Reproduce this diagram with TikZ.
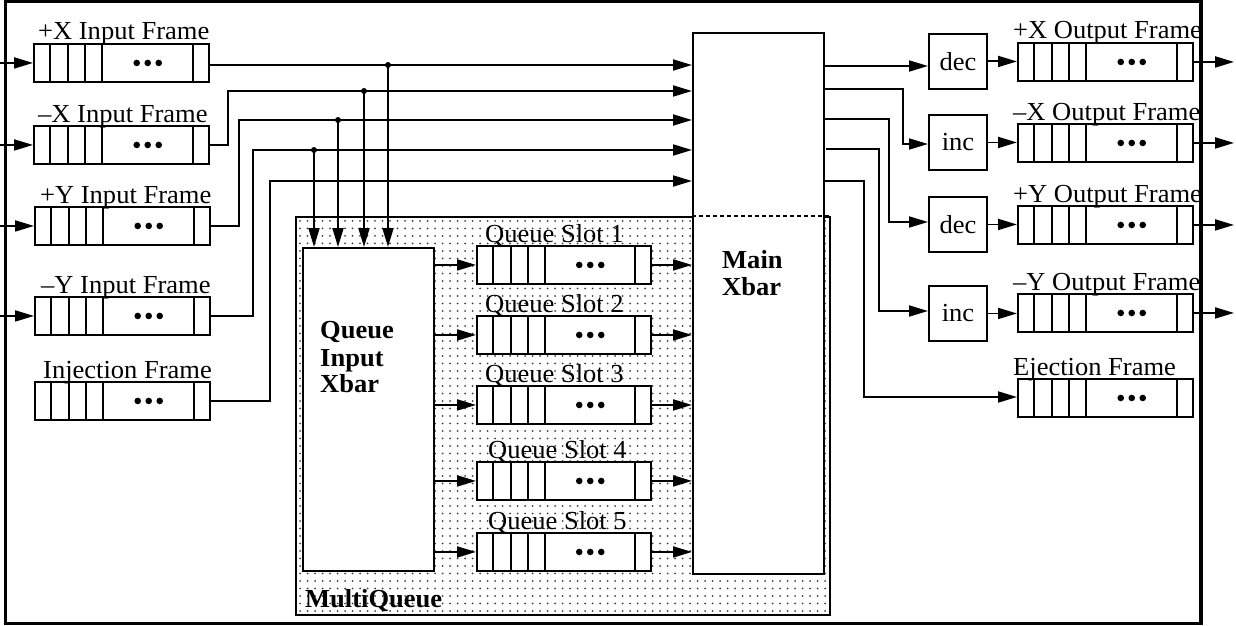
\documentclass[tikz,border=0pt]{standalone}
\usepackage{fontspec}
\setmainfont{Liberation Serif}[FakeStretch=1.02]
\usetikzlibrary{arrows.meta,patterns.meta,calc}
\newcommand\fs{\fontsize{26}{28}\selectfont}
\tikzset{
 ln/.style={line width=1.9pt},
 arr/.style={ln,-{Triangle[length=19pt,width=11pt]}},
 frm/.style={draw,line width=1.9pt,fill=white,rectangle,inner sep=0pt,minimum height=38pt,anchor=north west},
 opbox/.style={draw,line width=1.9pt,fill=white,rectangle,inner sep=0pt,minimum width=58pt,minimum height=55pt,anchor=north west,font=\fs},
 bigbox/.style={draw,line width=1.9pt,fill=white,rectangle,inner sep=0pt,anchor=north west},
 lbl/.style={anchor=base west,inner sep=0pt,font=\fs},
 blbl/.style={anchor=base west,inner sep=0pt,font=\fs\bfseries},
 jdot/.style={circle,fill=black,inner sep=0pt,minimum size=6pt},
}
\newcommand\qframe[4]{%
 \node[frm,minimum width=#4pt] (#1) at (#2,#3) {};
 \foreach \o in {17,35,52,69}{\draw[ln] ([xshift=\o pt]#1.north west) -- ([xshift=\o pt]#1.south west);}
 \draw[ln] ([xshift=-17pt]#1.north east) -- ([xshift=-17pt]#1.south east);
 \foreach \d in {-11,0,11}{\fill ($(#1.west)!{(52+#4)/(2*#4)}!(#1.east)$) ++(\d pt,0) circle (3.3pt);}
}
\begin{document}
\begin{tikzpicture}[x=1pt,y=-1pt]
\useasboundingbox (0,0) rectangle (1236,626);
% MultiQueue region
\node[draw,line width=1.9pt,pattern={Dots[distance=7.5pt,radius=1pt]},pattern color=black!75,
      rectangle,inner sep=0pt,anchor=north west,minimum width=534pt,minimum height=398pt] (mq) at (295,216) {};
\node[blbl] (mql) at (305,607) {MultiQueue};
% Main Xbar
\node[bigbox,minimum width=131pt,minimum height=541pt] (mx) at (692,32) {};
\draw[ln,dash pattern=on 4pt off 3pt] (mq.north -| mx.west) -- (mq.north east);
\node[blbl] (mxl1) at (722,268) {Main};
\node[blbl] (mxl2) at (722,295) {Xbar};
% Queue Input Xbar
\node[bigbox,minimum width=131pt,minimum height=323pt] (qx) at (302,247) {};
\node[blbl] (qxl1) at (320,338) {Queue};
\node[blbl] (qxl2) at (320,366) {Input};
\node[blbl] (qxl3) at (320,392) {Xbar};
% Queue slots
\qframe{qs1}{476}{245}{174}
\qframe{qs2}{476}{315}{174}
\qframe{qs3}{476}{385}{174}
\qframe{qs4}{476}{461}{174}
\qframe{qs5}{476}{532}{174}
\node[lbl] (qs1l) at ([xshift=9pt,yshift=3pt]qs1.north west) {Queue Slot 1};
\node[lbl] (qs2l) at ([xshift=9pt,yshift=3pt]qs2.north west) {Queue Slot 2};
\node[lbl] (qs3l) at ([xshift=9pt,yshift=3pt]qs3.north west) {Queue Slot 3};
\node[lbl] (qs4l) at ([xshift=12pt,yshift=3pt]qs4.north west) {Queue Slot 4};
\node[lbl] (qs5l) at ([xshift=12pt,yshift=3pt]qs5.north west) {Queue Slot 5};
\foreach \q in {qs1,qs2,qs3,qs4,qs5}{
  \draw[arr] (\q.west -| qx.east) -- (\q.west);
  \draw[arr] (\q.east) -- (\q.east -| mx.west);
}
% Input frames
\qframe{iX}{33}{43}{175}
\qframe{iXm}{33}{125}{175}
\qframe{iY}{34}{206}{175}
\qframe{iYm}{34}{296}{175}
\qframe{iJ}{34}{381}{175}
\node[lbl] (iXl) at ([xshift=5pt,yshift=3pt]iX.north west) {+X Input Frame};
\node[lbl] (iXml) at ([xshift=5pt,yshift=3pt]iXm.north west) {\textendash X Input Frame};
\node[lbl] (iYl) at ([xshift=6pt,yshift=3pt]iY.north west) {+Y Input Frame};
\node[lbl] (iYml) at ([xshift=7pt,yshift=3pt]iYm.north west) {\textendash Y Input Frame};
\node[lbl] (iJl) at ([xshift=9pt,yshift=3pt]iJ.north west) {Injection Frame};
\coordinate (lft) at (0,0);
\foreach \f in {iX,iXm,iY,iYm}{\draw[arr] (\f.west -| lft) -- (\f.west);}
% routes into Main Xbar
\coordinate (r1) at (692,65);
\coordinate (v2) at (228,91);
\coordinate (v3) at (239,120);
\coordinate (v4) at (253,150);
\coordinate (v5) at (270,181);
\draw[arr] (iX.east |- r1) -- (r1);
\draw[arr] (iXm.east) -| (v2) -- (v2 -| mx.west);
\draw[arr] (iY.east) -| (v3) -- (v3 -| mx.west);
\draw[arr] (iYm.east) -| (v4) -- (v4 -| mx.west);
\draw[arr] (iJ.east) -| (v5) -- (v5 -| mx.west);
\node[jdot] (j1) at (388,65) {};
\node[jdot] (j2) at (364,91) {};
\node[jdot] (j3) at (338,120) {};
\node[jdot] (j4) at (314,150) {};
\foreach \j in {j1,j2,j3,j4}{\draw[arr] (\j.center) -- (\j |- qx.north);}
% Output side
\node[opbox] (dec1) at (928,33) {dec};
\node[opbox] (inc2) at (928,114) {inc};
\node[opbox] (dec3) at (928,196) {dec};
\node[opbox] (inc4) at (928,285) {inc};
\qframe{oX}{1017}{42}{175}
\qframe{oXm}{1017}{123}{175}
\qframe{oY}{1017}{205}{175}
\qframe{oYm}{1017}{293}{175}
\qframe{oE}{1017}{378}{175}
\node[lbl] (oXl) at ([xshift=-4pt,yshift=3pt]oX.north west) {+X Output Frame};
\node[lbl] (oXml) at ([xshift=-4pt,yshift=3pt]oXm.north west) {\textendash X Output Frame};
\node[lbl] (oYl) at ([xshift=-4pt,yshift=3pt]oY.north west) {+Y Output Frame};
\node[lbl] (oYml) at ([xshift=-4pt,yshift=3pt]oYm.north west) {\textendash Y Output Frame};
\node[lbl] (oEl) at ([xshift=-4pt,yshift=3pt]oE.north west) {Ejection Frame};
\coordinate (m1) at (823,66);
\coordinate (m2) at (823,89);
\coordinate (m3) at (823,119);
\coordinate (m4) at (826,149);
\coordinate (m5) at (823,181);
\coordinate (t2) at (903,144);
\coordinate (t3) at (889,222);
\coordinate (t4) at (879,311);
\coordinate (t5) at (864,397);
\draw[arr] (m1) -- (m1 -| dec1.west);
\draw[arr] (m2) -| (t2) -- (t2 -| inc2.west);
\draw[arr] (m3) -| (t3) -- (t3 -| dec3.west);
\draw[arr] (m4) -| (t4) -- (t4 -| inc4.west);
\draw[arr] (m5) -| (t5) -- (t5 -| oE.west);
\draw[arr] (dec1.east) -- (dec1.east -| oX.west);
\draw[arr] (inc2.east) -- (inc2.east -| oXm.west);
\draw[arr] (dec3.east) -- (dec3.east -| oY.west);
\draw[arr] (inc4.east) -- (inc4.east -| oYm.west);
\coordinate (rgt) at (1234,0);
\foreach \f in {oX,oXm,oY,oYm}{\draw[arr] (\f.east) -- (\f.east -| rgt);}
% outer frame
\draw[line width=3.5pt] (5.3,1.5) rectangle (1201,623.5);
\end{tikzpicture}
\end{document}
